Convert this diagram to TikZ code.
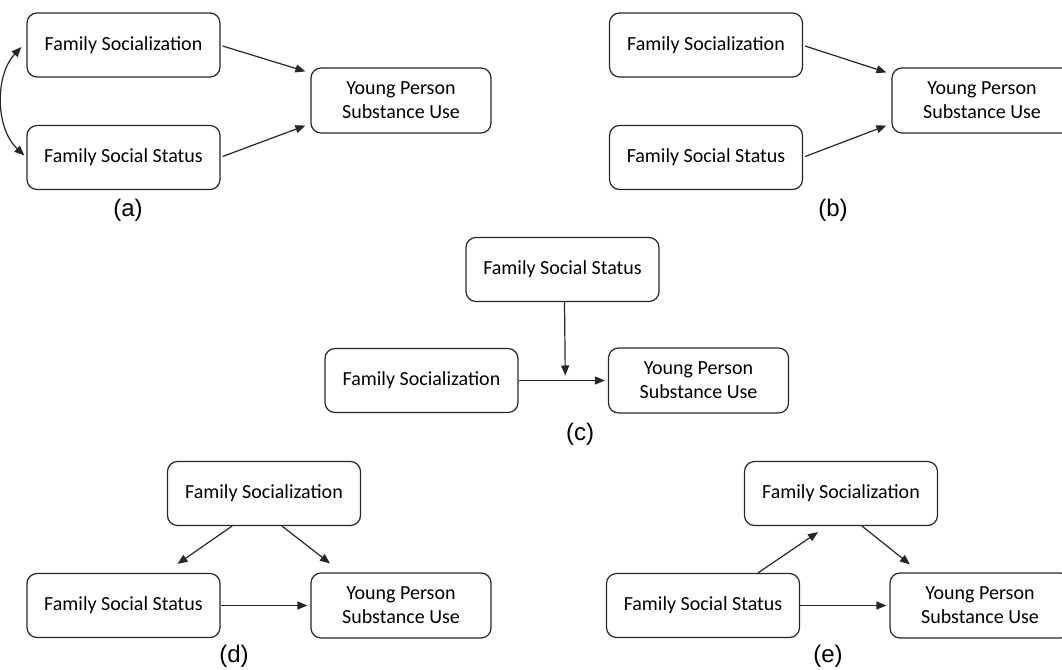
\documentclass[tikz,border=0pt]{standalone}
\usepackage{fontspec}
\setmainfont{Carlito}
\newfontfamily\labfont{Liberation Sans}
\usetikzlibrary{calc,arrows.meta}
\tikzset{
  box/.style={draw=black!85, line width=1.2pt, rounded corners=10pt, minimum width=193pt, minimum height=64pt, inner sep=0pt, align=center, font=\fontsize{20}{24}\selectfont},
  ypbox/.style={box, minimum width=180pt, minimum height=65pt},
  arr/.style={line width=1.2pt, draw=black!85, -{Triangle[length=10pt,width=8pt]}},
  darr/.style={line width=1.2pt, draw=black!85, {Triangle[length=10pt,width=8pt]}-{Triangle[length=10pt,width=8pt]}},
  lab/.style={font=\labfont\fontsize{24}{28}\selectfont, inner sep=0pt}
}
\begin{document}
\begin{tikzpicture}[x=1pt,y=-1pt]
\useasboundingbox (0,0) rectangle (1062,669);
% (a)
\node[box] (fsa) at (123.5,45) {Family Socialization};
\node[box] (fssa) at (123.5,157.5) {Family Social Status};
\node[ypbox] (ypa) at (401,100.5) {Young Person\\Substance Use};
\node[lab] (la) at (128,210) {(a)};
\draw[arr] ($(fsa.east)+(2,1)$) -- ($(ypa.north west)+(-5,4)$);
\draw[arr] ($(fssa.east)+(2,-1)$) -- ($(ypa.south west)+(-5,-8)$);
\draw[darr] ($(fsa.west)+(-5,2)$) .. controls (-5,75) and (-5,128) .. ($(fssa.west)+(-2,-2)$);
% (b)
\node[box] (fsb) at (706,45) {Family Socialization};
\node[box] (fssb) at (706,157.5) {Family Social Status};
\node[ypbox] (ypb) at (982,100.5) {Young Person\\Substance Use};
\node[lab] (lb) at (833,210) {(b)};
\draw[arr] ($(fsb.east)+(2,1)$) -- ($(ypb.north west)+(-5,5)$);
\draw[arr] ($(fssb.east)+(2,-1)$) -- ($(ypb.south west)+(-5,-8)$);
% (c)
\node[box] (fssc) at (562.5,269.5) {Family Social Status};
\node[box] (fsc) at (421.5,380.5) {Family Socialization};
\node[ypbox] (ypc) at (698.5,380.5) {Young Person\\Substance Use};
\node[lab] (lc) at (580,434) {(c)};
\coordinate (mc) at ($(fsc.east)!0.5!(ypc.west)$);
\draw[arr, shorten >=3pt] (fsc.east) -- (ypc.west);
\draw[arr] ($(fssc.south)+(2,0)$) -- ($(mc)+(2,-5)$);
% (d)
\node[box] (fsd) at (264,493.5) {Family Socialization};
\node[box] (fssd) at (123.5,605.5) {Family Social Status};
\node[ypbox] (ypd) at (401,605.5) {Young Person\\Substance Use};
\node[lab] (ld) at (234,656) {(d)};
\draw[arr] ($(fsd.south)+(-32,0)$) -- ($(fssd.north)+(54,-9)$);
\draw[arr] ($(fsd.south)+(18,0)$) -- ($(ypd.north)+(-71,-9)$);
\draw[arr, shorten >=3pt] (fssd.east) -- (ypd.west);
% (e)
\node[box] (fse) at (841,493.5) {Family Socialization};
\node[box] (fsse) at (703,605.5) {Family Social Status};
\node[ypbox] (ype) at (980,605.5) {Young Person\\Substance Use};
\node[lab] (le) at (828,656) {(e)};
\draw[arr] ($(fsse.north)+(55,0)$) -- ($(fse.south)+(-23,6)$);
\draw[arr] ($(fse.south)+(21,0)$) -- ($(ype.north)+(-70,-8)$);
\draw[arr, shorten >=3pt] (fsse.east) -- (ype.west);
\end{tikzpicture}
\end{document}
